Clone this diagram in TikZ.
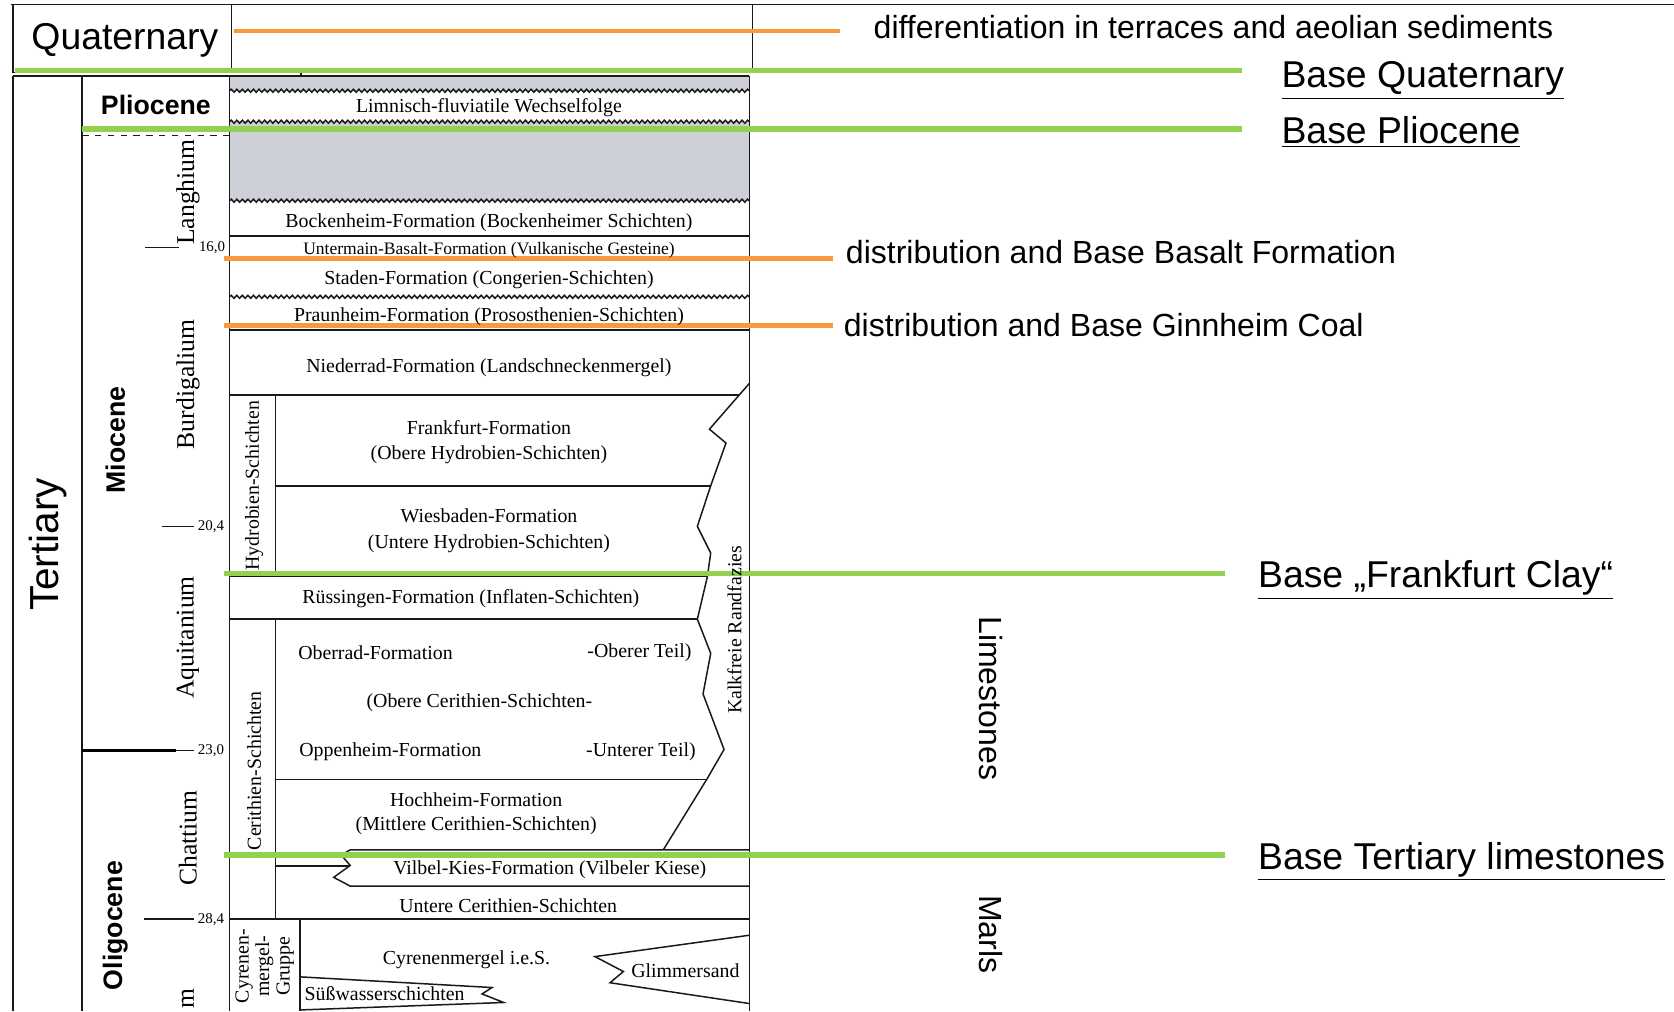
\documentclass[tikz,border=0pt]{standalone}
\usepackage{fontspec}
\setmainfont{Liberation Serif}
\setsansfont{Liberation Sans}
\usetikzlibrary{decorations.pathmorphing}

\definecolor{basegreen}{RGB}{146,208,80}
\definecolor{distorange}{RGB}{250,152,60}
\definecolor{hiatusgray}{RGB}{205,208,214}

\tikzset{
  frame/.style={line width=0.7pt, black!90},
  wavy/.style={frame, decorate, decoration={snake, amplitude=0.7pt, segment length=2.6pt}},
  greenline/.style={basegreen, line width=2.6pt},
  orangeline/.style={distorange, line width=2.2pt},
  unit/.style={font=\fontsize{9.3}{11}\selectfont, inner sep=0pt},
  smallunit/.style={font=\fontsize{8.2}{10}\selectfont, inner sep=0pt},
  stage/.style={font=\fontsize{12}{14}\selectfont, rotate=90, inner sep=0pt},
  agelabel/.style={font=\fontsize{7}{8}\selectfont, anchor=west, inner sep=0pt},
  epoch/.style={font=\sffamily\bfseries\fontsize{12.5}{15}\selectfont, inner sep=0pt},
  note/.style={font=\sffamily\fontsize{15}{18}\selectfont, anchor=base west, inner sep=0pt},
  basename/.style={font=\sffamily\fontsize{17.5}{21}\selectfont, anchor=base west, inner sep=0pt},
}

\begin{document}
\begin{tikzpicture}[x=0.5pt,y=-0.5pt]
\useasboundingbox (0,0) rectangle (1568,947);

% hiatus bands
\fill[hiatusgray] (215,71) rectangle (702,85);
\fill[hiatusgray] (215,114) rectangle (702,188);

% Quaternary box and outer frame
\draw[frame] (10,4) -- (1568,4);
\draw[frame] (12,4) -- (12,68) -- (705,68) -- (705,4);
\draw[frame] (217,4) -- (217,68);
\draw[frame] (12,71) -- (702,71);
\draw[frame] (282,66) -- (282,71);
\draw[frame] (12,71) -- (12,947);
\draw[frame] (77,71) -- (77,947);
\draw[frame] (215,71) -- (215,947);
\draw[frame] (702,71) -- (702,947);

% epochs
\draw[frame] (77,122) -- (215,122);
\draw[frame, dashed] (77,127) -- (215,127);
\draw[black, line width=1.1pt] (77,703) -- (165,703);
\draw[frame] (165,703) -- (182,703);

% age ticks
\draw[frame] (136,232) -- (168,232);
\draw[frame] (152,493) -- (182,493);
\draw[frame] (135,861) -- (182,861);

% unconformities
\draw[wavy] (215,85) -- (702,85);
\draw[wavy] (215,114) -- (702,114);
\draw[wavy] (215,188) -- (702,188);
\draw[wavy] (215,278) -- (702,278);

% formation boundaries
\draw[frame] (215,221) -- (702,221);
\draw[frame] (215,242) -- (702,242);
\draw[frame] (215,309) -- (702,309);
\draw[frame] (215,370) -- (692,370);
\draw[frame] (258,370) -- (258,540);
\draw[frame] (258,455) -- (666,455);
\draw[frame] (215,540) -- (662.6,540);
\draw[frame] (215,580) -- (653,580);
\draw[frame] (258,580) -- (258,861);
\draw[frame] (258,730) -- (662,730);
\draw[frame] (215,861) -- (702,861);
\draw[frame] (281,861) -- (281,947);

% Vilbel wedge
\draw[frame] (702,796) -- (328,796) -- (319.7,801) -- (328,810.6) -- (312.6,821.8) -- (328,830) -- (702,830);
\draw[frame] (258,811) -- (328,811);

% margin facies
\draw[frame] (702,359) -- (664.5,402) -- (680,415) -- (665.7,455) -- (653.2,493) -- (665.7,518)
  -- (662.6,540) -- (653.2,580) -- (665.7,612) -- (658.5,650) -- (678.2,702) -- (662,730) -- (621.3,796);

% Glimmersand and Suesswasser wedges
\draw[frame] (702,876) -- (557.3,896) -- (583.9,910) -- (571.4,920.5) -- (702,940);
\draw[frame] (281,915) -- (460.9,925) -- (451.5,931) -- (471.8,939) -- (281,946);

% marker lines
\draw[orangeline] (219,29) -- (787,29);
\draw[greenline] (14,66) -- (1163,66);
\draw[greenline] (77,121) -- (1163,121);
\draw[orangeline] (210,242) -- (780,242);
\draw[orangeline] (210,305) -- (780,305);
\draw[greenline] (210,537) -- (1147,537);
\draw[greenline] (210,801) -- (1147,801);

% periods and epochs
\node[font=\sffamily\fontsize{17.5}{21}\selectfont, inner sep=0pt] (quaternary) at (117,38) {Quaternary};
\node[font=\sffamily\fontsize{19}{22}\selectfont, rotate=90, inner sep=0pt] (tertiary) at (45,510) {Tertiary};
\node[epoch] (pliocene) at (146,98) {Pliocene};
\node[epoch, rotate=90] (miocene) at (108,412) {Miocene};
\node[epoch, rotate=90] (oligocene) at (108,867) {Oligocene};

% stages
\node[stage] (langhium) at (176,180) {Langhium};
\node[stage] (burdigalium) at (176,360) {Burdigalium};
\node[stage] (aquitanium) at (176,597) {Aquitanium};
\node[stage] (chattium) at (176,785) {Chattium};
\node[stage] (rupelium) at (176,935) {m};
\node[agelabel] (age16) at (186,232) {16,0};
\node[agelabel] (age20) at (185,493) {20,4};
\node[agelabel] (age23) at (185,703) {23,0};
\node[agelabel] (age28) at (185,861) {28,4};

% formations
\node[unit] (limnisch) at (458,101) {Limnisch-fluviatile Wechselfolge};
\node[unit] (bockenheim) at (458,209) {Bockenheim-Formation (Bockenheimer Schichten)};
\node[smallunit] (untermain) at (458,234) {Untermain-Basalt-Formation (Vulkanische Gesteine)};
\node[unit] (staden) at (458,262) {Staden-Formation (Congerien-Schichten)};
\node[unit] (praunheim) at (458,297) {Praunheim-Formation (Prososthenien-Schichten)};
\node[unit] (niederrad) at (458,344) {Niederrad-Formation (Landschneckenmergel)};
\node[unit, align=center] (frankfurt) at (458,414) {Frankfurt-Formation\\[1pt](Obere Hydrobien-Schichten)};
\node[unit, align=center] (wiesbaden) at (458,497) {Wiesbaden-Formation\\[1pt](Untere Hydrobien-Schichten)};
\node[unit] (ruessingen) at (441,561) {Rüssingen-Formation (Inflaten-Schichten)};
\node[unit, anchor=west] (oberrad) at (279,611) {Oberrad-Formation};
\node[unit, anchor=east] (oberrad2) at (648,611) {-Oberer Teil)};
\node[unit] (oberecer) at (449,658) {(Obere Cerithien-Schichten-};
\node[unit, anchor=west] (oppenheim) at (280,704) {Oppenheim-Formation};
\node[unit, anchor=east] (oppenheim2) at (652,704) {-Unterer Teil)};
\node[unit, align=center] (hochheim) at (446,762) {Hochheim-Formation\\(Mittlere Cerithien-Schichten)};
\node[unit] (vilbel) at (515,815) {Vilbel-Kies-Formation (Vilbeler Kiese)};
\node[unit] (unterecer) at (476,848) {Untere Cerithien-Schichten};
\node[unit] (cyrenen) at (437,899) {Cyrenenmergel i.e.S.};
\node[unit] (glimmer) at (642,909) {Glimmersand};
\node[unit, anchor=west] (suess) at (285,931) {Süßwasserschichten};
\node[unit, rotate=90] (hydrobien) at (238,455) {Hydrobien-Schichten};
\node[unit, rotate=90] (cerithien) at (238,722) {Cerithien-Schichten};
\node[unit, rotate=90, align=center, font=\fontsize{9.3}{9.6}\selectfont] (cyrgruppe) at (248,905) {Cyrenen-\\mergel-\\Gruppe};
\node[unit, rotate=90] (randfazies) at (688,590) {Kalkfreie Randfazies};

% interpretation
\node[note] (terraces) at (818,36) {differentiation in terraces and aeolian sediments};
\node[note] (basalt) at (792,247) {distribution and Base Basalt Formation};
\node[note] (ginnheim) at (790,315) {distribution and Base Ginnheim Coal};
\node[basename] (bquat) at (1200,82) {\underline{Base Quaternary}};
\node[basename] (bplio) at (1200,134) {\underline{Base Pliocene}};
\node[basename] (bclay) at (1178,550) {\underline{Base „Frankfurt Clay“}};
\node[basename] (blime) at (1178,814) {\underline{Base Tertiary limestones}};
\node[font=\sffamily\fontsize{15}{18}\selectfont, rotate=-90, inner sep=0pt] (limestones) at (928,654) {Limestones};
\node[font=\sffamily\fontsize{15}{18}\selectfont, rotate=-90, inner sep=0pt] (marls) at (928,875) {Marls};
\end{tikzpicture}
\end{document}
